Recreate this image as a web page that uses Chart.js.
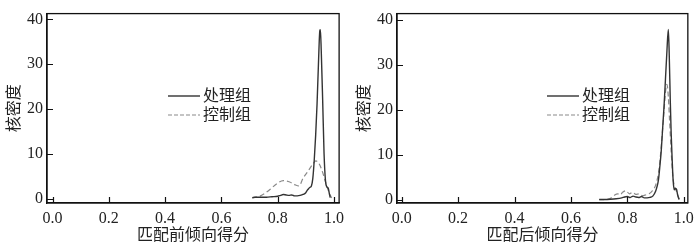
<!DOCTYPE html>
<html><head><meta charset="utf-8">
<script src="https://cdn.jsdelivr.net/npm/chart.js@4.4.1/dist/chart.umd.min.js"></script>
<style>
html,body{margin:0;padding:0;background:#fff;}
#wrap{position:relative;width:700px;height:248px;}
canvas{position:absolute;top:0;}
</style></head>
<body>
<div id="wrap">
<canvas id="c1" width="350" height="248" style="left:0"></canvas>
<canvas id="c2" width="350" height="248" style="left:350px"></canvas>
</div>
<script>
// ---- data ----
const seriesNames = ["处理组", "控制组"];
const xTickValues = [0.0, 0.2, 0.4, 0.6, 0.8, 1.0];
const yTickValues = [0, 10, 20, 30, 40];
const xTitles = ["匹配前倾向得分", "匹配后倾向得分"];
const yTitle = "核密度";

// before matching: treatment (solid)
const beforeTreatX = [0.71,0.72,0.74,0.76,0.78,0.80,0.81,0.82,0.83,0.84,0.85,0.86,0.87,0.88,0.89,0.90,0.905,0.91,0.915,0.92,0.925,0.93,0.935,0.94,0.945,0.95,0.952,0.955,0.96,0.965,0.97,0.975,0.98,0.984,0.987];
const beforeTreatY = [0.2,0.3,0.3,0.3,0.4,0.5,0.7,0.9,0.8,0.7,0.8,0.6,0.6,0.7,0.9,1.3,1.8,2.2,2.5,2.8,4.5,8.5,14,21,30,37.5,37.7,33,22,10,4,2.6,2.3,1.0,0.2];
// before matching: control (dashed)
const beforeCtrlX = [0.709,0.72,0.739,0.755,0.774,0.797,0.82,0.843,0.861,0.876,0.89,0.907,0.925,0.936,0.948,0.959,0.973,0.983,0.992];
const beforeCtrlY = [0.15,0.3,0.6,1.2,2.1,3.3,4.0,3.7,3.1,2.8,4.5,6.0,7.7,8.4,7.7,6.0,3.1,1.3,0.1];
// after matching: treatment (solid)
const afterTreatX = [0.70,0.72,0.74,0.76,0.78,0.79,0.80,0.81,0.82,0.83,0.84,0.85,0.86,0.87,0.88,0.89,0.90,0.905,0.91,0.915,0.92,0.925,0.93,0.935,0.94,0.945,0.948,0.952,0.955,0.958,0.962,0.966,0.97,0.974,0.978,0.983];
const afterTreatY = [0.15,0.15,0.2,0.3,0.5,0.7,0.8,0.6,0.9,0.7,0.6,0.8,0.5,0.5,0.6,0.9,2.0,3.0,4.5,7.5,11,16,21,27,33,37.9,33,22,15,10,4.5,2.3,2.6,2.4,1.2,0.15];
// after matching: control (dashed)
const afterCtrlX = [0.70,0.72,0.74,0.754,0.765,0.775,0.783,0.795,0.807,0.818,0.83,0.842,0.854,0.866,0.877,0.889,0.901,0.91,0.915,0.92,0.925,0.93,0.935,0.94,0.945,0.95,0.955,0.96,0.965,0.97,0.975,0.98,0.985];
const afterCtrlY = [0.1,0.15,0.4,1.1,1.4,1.2,1.75,2.1,1.4,1.75,1.3,1.4,1.0,1.2,1.4,2.1,3.5,6,8.5,12,16,20,24,25.7,23,17,11,6,3.5,2.5,1.8,0.8,0.1];

function pts(xs, ys){ return xs.map((x,i)=>({x:x, y:ys[i]})); }

const FONT = "'Liberation Serif','Noto Sans CJK SC',serif";
const AXIS = '#111';
const TEXT = '#222';

const framePlugin = {
  id: 'frameTicks',
  afterDraw(chart, args, opts){
    const ctx = chart.ctx, a = chart.chartArea;
    const xs = chart.scales.x, ys = chart.scales.y;
    ctx.save();
    ctx.strokeStyle = AXIS;
    ctx.lineWidth = 1.3;
    ctx.strokeRect(a.left, a.top, a.right - a.left, a.bottom - a.top);
    ctx.lineWidth = 1.2;
    ctx.beginPath();
    xs.ticks.forEach(t => { const p = Math.round(xs.getPixelForValue(t.value)) + 0.5; ctx.moveTo(p, a.bottom); ctx.lineTo(p, a.bottom - 6); });
    ys.ticks.forEach(t => { const p = Math.round(ys.getPixelForValue(t.value)) + 0.5; ctx.moveTo(a.left, p); ctx.lineTo(a.left + 6, p); });
    ctx.stroke();
    // legend
    const lg = opts.legend;
    chart.data.datasets.forEach((ds, i) => {
      const y = lg.y + i * lg.gap;
      ctx.beginPath();
      ctx.strokeStyle = ds.borderColor;
      ctx.lineWidth = ds.borderWidth;
      ctx.setLineDash(ds.legendDash || []);
      ctx.moveTo(lg.x, y); ctx.lineTo(lg.x + 32, y);
      ctx.stroke();
      ctx.setLineDash([]);
      ctx.fillStyle = TEXT;
      ctx.font = "16px " + FONT;
      ctx.textBaseline = 'middle';
      ctx.textAlign = 'left';
      ctx.fillText(ds.label, lg.x + 35, y + 1);
    });
    ctx.restore();
  }
};

function makeChart(id, treat, ctrl, xr, yr, padRight, xTitle, legendX){
  return new Chart(document.getElementById(id), {
    type: 'line',
    data: { datasets: [
      { label: seriesNames[0], data: treat, borderColor: '#333', borderWidth: 1.4, pointRadius: 0, fill: false, cubicInterpolationMode: 'monotone' },
      { label: seriesNames[1], data: ctrl, borderColor: '#8a8a8a', borderWidth: 1.2, borderDash: [5,3], legendDash: [4,2], pointRadius: 0, fill: false, cubicInterpolationMode: 'monotone' }
    ]},
    options: {
      responsive: false, devicePixelRatio: 1, animation: false,
      layout: { padding: { left: 0, right: padRight, top: 4, bottom: 0 } },
      plugins: { legend: { display: false }, tooltip: { enabled: false },
        frameTicks: { legend: { x: legendX, y: 96, gap: 19 } } },
      scales: {
        x: { type: 'linear', min: xr[0], max: xr[1],
          afterBuildTicks: s => { s.ticks = xTickValues.map(v => ({value: v})); },
          afterFit: s => { s.height = 45; },
          grid: { display: false, drawTicks: false },
          border: { display: true, color: AXIS, width: 1.3 },
          ticks: { padding: 6, color: TEXT, font: { family: FONT, size: 16 }, callback: v => Number(v).toFixed(1), maxRotation: 0, autoSkip: false },
          title: { display: true, text: xTitle, color: TEXT, font: { family: FONT, size: 16 }, padding: { top: 0, bottom: 3 } }
        },
        y: { type: 'linear', min: yr[0], max: yr[1],
          afterBuildTicks: s => { s.ticks = yTickValues.map(v => ({value: v})); },
          afterFit: s => { s.width = 47; },
          grid: { display: false, drawTicks: false },
          border: { display: true, color: AXIS, width: 1.3 },
          ticks: { padding: 4, color: TEXT, font: { family: FONT, size: 16 }, autoSkip: false },
          title: { display: true, text: yTitle, color: TEXT, font: { family: FONT, size: 16 }, padding: { top: 5, bottom: 0 } }
        }
      }
    },
    plugins: [framePlugin]
  });
}

makeChart('c1', pts(beforeTreatX, beforeTreatY), pts(beforeCtrlX, beforeCtrlY), [-0.0199, 1.0185], [-1.0, 41.3], 5, xTitles[0], 168);
makeChart('c2', pts(afterTreatX, afterTreatY), pts(afterCtrlX, afterCtrlY), [-0.0166, 1.0142], [-0.63, 41.4], 12, xTitles[1], 197);
</script>
</body></html>
